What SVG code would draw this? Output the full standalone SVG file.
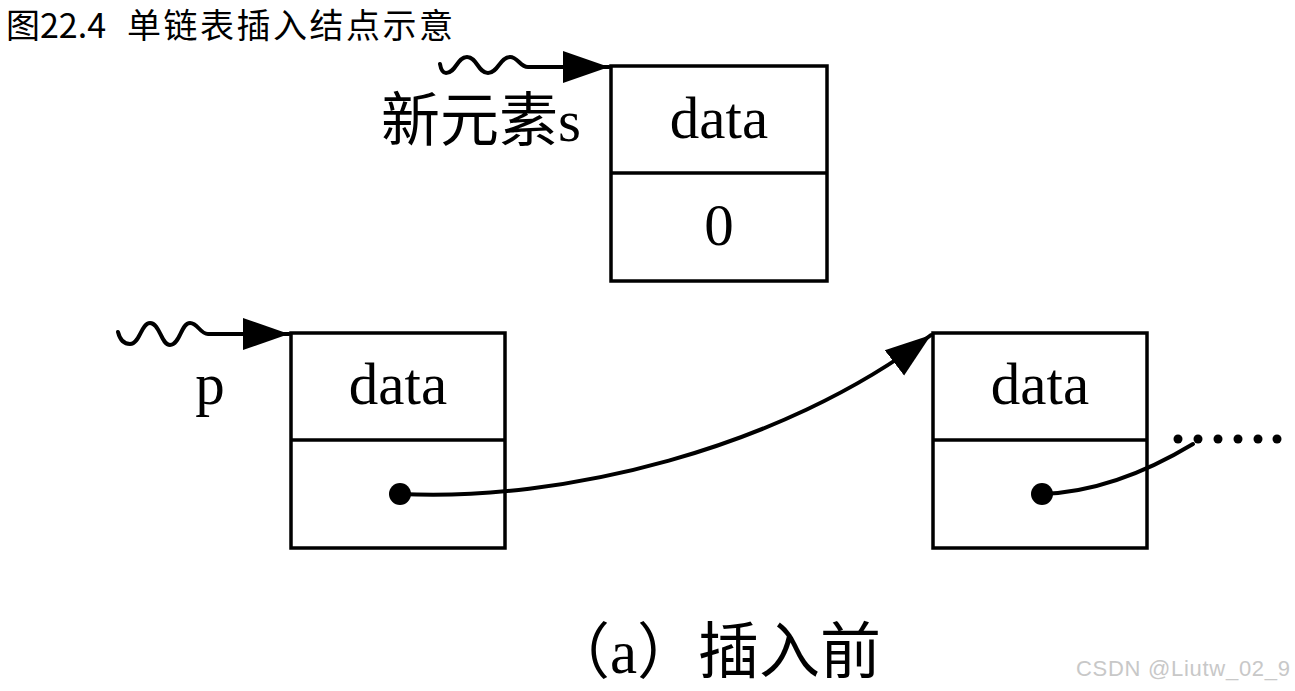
<svg xmlns="http://www.w3.org/2000/svg" width="1295" height="691" viewBox="0 0 1295 691">
<defs>
<style>
.box{fill:#fff;stroke:#000;stroke-width:3.5}
.div{stroke:#000;stroke-width:3.5}
.lbl{font-family:"Liberation Serif","Noto Sans CJK SC",serif;font-size:59px;fill:#000}
.wire{fill:none;stroke:#000;stroke-width:4;stroke-linecap:round}
.dot{fill:#000}
</style>
<marker id="ah" markerWidth="48" markerHeight="34" refX="46" refY="17" orient="auto" markerUnits="userSpaceOnUse">
<path d="M0,1 L46,17 L0,33 Z" fill="#000"/>
</marker>
</defs>
<rect width="1295" height="691" fill="#fff"/>
<g id="title" font-family="'Noto Sans CJK SC',sans-serif" font-size="34" fill="#000">
<text x="6" y="38">图22.4</text>
<text x="127" y="38" textLength="326" lengthAdjust="spacing">单链表插入结点示意</text>
</g>

<g id="node-s">
<rect class="box" x="611" y="66" width="216" height="215"/>
<line class="div" x1="611" y1="173" x2="827" y2="173"/>
<text class="lbl" x="719" y="138" text-anchor="middle">data</text>
<text class="lbl" x="719" y="245" text-anchor="middle">0</text>
</g>
<g id="label-s">
<text class="lbl" x="581" y="141" text-anchor="end">新元素s</text>
</g>

<g id="node-p">
<rect class="box" x="291" y="333" width="214" height="215"/>
<line class="div" x1="291" y1="440" x2="505" y2="440"/>
<text class="lbl" x="398" y="404" text-anchor="middle">data</text>
<circle class="dot" cx="400" cy="494" r="11"/>
</g>
<g id="label-p">
<text class="lbl" x="210" y="404" text-anchor="middle">p</text>
</g>

<g id="node-next">
<rect class="box" x="933" y="333" width="214" height="215"/>
<line class="div" x1="933" y1="440" x2="1147" y2="440"/>
<text class="lbl" x="1040" y="404" text-anchor="middle">data</text>
<circle class="dot" cx="1042" cy="494" r="11"/>
</g>

<g id="ellipsis">
<circle class="dot" cx="1178" cy="439" r="4.5"/>
<circle class="dot" cx="1198" cy="439" r="4.5"/>
<circle class="dot" cx="1218" cy="439" r="4.5"/>
<circle class="dot" cx="1238" cy="439" r="4.5"/>
<circle class="dot" cx="1258" cy="439" r="4.5"/>
<circle class="dot" cx="1277" cy="439" r="4.5"/>
</g>

<g id="connectors">
<path class="wire" d="M440,64 C441,70 443,73 446,73 C456,73 457,57 467,57 C477,57 478,73 488,73 C498,73 500,57 510,57 C518,57 520,67 528,67 L609,67" marker-end="url(#ah)" stroke-width="4.5"/>
<path class="wire" d="M118,332 C120,340 124,344 130,344 C140,344 141,323 150,323 C160,323 161,345 170,345 C180,345 181,323 190,323 C198,323 200,334 208,334 L289,334" marker-end="url(#ah)" stroke-width="4.5"/>
<path class="wire" d="M400,494 C560,502 780,450 931,335" marker-end="url(#ah)"/>
<path class="wire" d="M1042,494 C1100,492 1150,470 1193,444"/>
</g>

<text x="715" y="673" text-anchor="middle" font-family="'Liberation Serif','Noto Sans CJK SC',serif" font-size="61" fill="#000">（a）插入前</text>
<text x="1076" y="676" font-family="'Liberation Sans',sans-serif" font-size="22" fill="#c8c8c8" textLength="214" lengthAdjust="spacing">CSDN @Liutw_02_9</text>
</svg>
